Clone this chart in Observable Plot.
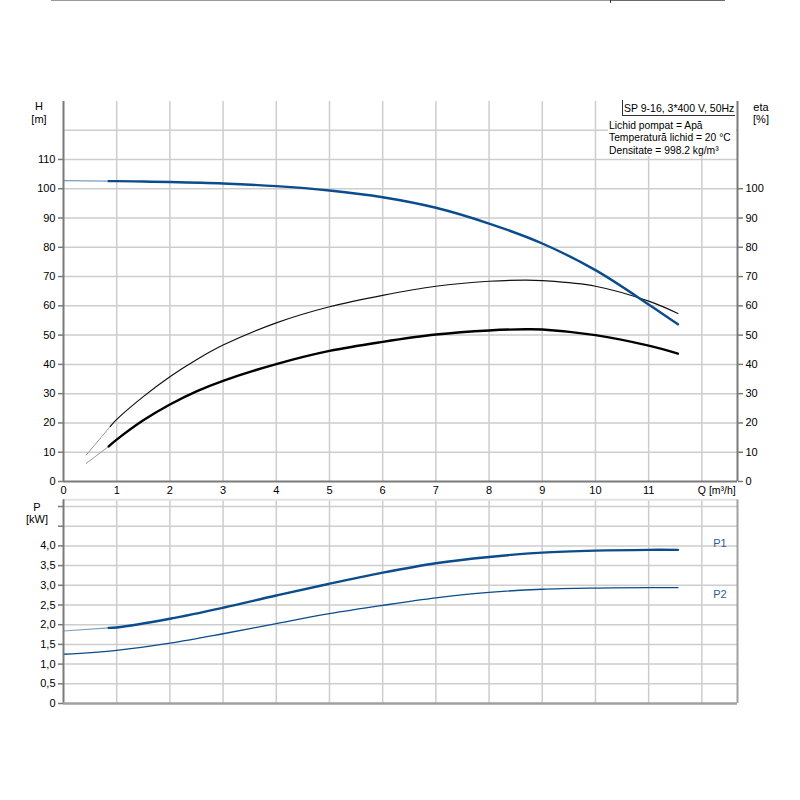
<!DOCTYPE html>
<html>
<head>
<meta charset="utf-8">
<script src="https://cdn.jsdelivr.net/npm/d3@7"></script>
<script src="https://cdn.jsdelivr.net/npm/@observablehq/plot@0.6"></script>
<style>
  html, body { margin: 0; padding: 0; background: #fff; }
  #root { position: relative; width: 800px; height: 800px; font-family: "Liberation Sans", Arial, sans-serif; color: #000; }
  .abs { position: absolute; white-space: nowrap; line-height: 1; }
  .c { transform: translate(-50%, -50%); }
  svg { overflow: visible; }
</style>
</head>
<body>
<div id="root"></div>
<script>
// ---- data ----
const Q_DOMAIN = [0, 12.67];
const Q_GRID = [1, 2, 3, 4, 5, 6, 7, 8, 9, 10, 11, 12];
const Q_TICKS = [0, 1, 2, 3, 4, 5, 6, 7, 8, 9, 10, 11];
const Q_UNIT_TICK = [12];
const Q_UNIT_LABEL = "Q [m³/h]";
const H_DOMAIN = [0, 129.8];
const H_GRID = [10, 20, 30, 40, 50, 60, 70, 80, 90, 100, 110, 120];
const H_TICKS = [0, 10, 20, 30, 40, 50, 60, 70, 80, 90, 100, 110];
const ETA_TICKS = [0, 10, 20, 30, 40, 50, 60, 70, 80, 90, 100];
const P_DOMAIN = [0, 5.17];
const P_GRID = [0.5, 1, 1.5, 2, 2.5, 3, 3.5, 4, 4.5, 5];
const P_TICKS = [0, 0.5, 1, 1.5, 2, 2.5, 3, 3.5, 4, 4.5, 5];
const P_LABELED = [0, 0.5, 1, 1.5, 2, 2.5, 3, 3.5, 4];

// head curve H [m]
const H_THIN_Q = [0, 0.85];
const H_THIN = [102.8, 102.6];
const H_Q = [0.85, 1, 1.5, 2, 3, 4, 5, 6, 7, 8, 9, 10, 11, 11.55];
const H = [102.6, 102.6, 102.45, 102.3, 101.8, 100.9, 99.4, 97.1, 93.5, 88.1, 81.3, 72.2, 60.5, 53.7];

// pump efficiency (thin black)
const ETA_P_THIN_Q = [0.43, 0.88];
const ETA_P_THIN = [9.1, 18.8];
const ETA_P_Q = [0.88, 1, 1.5, 2, 2.5, 3, 4, 5, 6, 7, 8, 8.7, 9, 10, 11, 11.55];
const ETA_P = [18.8, 21.2, 29.0, 35.8, 41.6, 46.6, 54.2, 59.7, 63.6, 66.7, 68.4, 68.8, 68.6, 66.7, 61.6, 57.4];

// total efficiency (thick black)
const ETA_T_THIN_Q = [0.43, 0.85];
const ETA_T_THIN = [6.2, 12.0];
const ETA_T_Q = [0.85, 1, 1.5, 2, 2.5, 3, 4, 5, 6, 7, 8, 8.7, 9, 10, 11, 11.55];
const ETA_T = [12.0, 14.3, 20.9, 26.3, 30.8, 34.4, 40.1, 44.6, 47.7, 50.2, 51.6, 52.0, 51.9, 50.0, 46.4, 43.7];

// power P1 / P2 [kW]
const P1_THIN_Q = [0, 0.85];
const P1_THIN = [1.84, 1.92];
const P1_Q = [0.85, 1, 2, 3, 4, 5, 6, 7, 8, 9, 10, 11, 11.55];
const P1 = [1.92, 1.93, 2.15, 2.43, 2.74, 3.04, 3.32, 3.56, 3.72, 3.83, 3.88, 3.90, 3.90];
const P2_Q = [0, 1, 2, 3, 4, 5, 6, 7, 8, 9, 10, 11, 11.55];
const P2 = [1.25, 1.35, 1.53, 1.77, 2.03, 2.28, 2.49, 2.68, 2.82, 2.90, 2.93, 2.94, 2.94];

const pts = (qs, vs) => qs.map((q, i) => ({q, v: vs[i]}));

const BLUE = "#0a4c8c";
const BLUE_THIN = "#7d9cc0";
const GRID = "#cdcdcd";
const AXIS = "#7a7a7a";
const FONT = "'Liberation Sans', Arial, sans-serif";
const CURVE = "catmull-rom";

const root = document.getElementById("root");

// ---- top chart ----
const topChart = Plot.plot({
  width: 800, height: 500,
  marginLeft: 63, marginRight: 63, marginTop: 101, marginBottom: 19,
  x: {domain: Q_DOMAIN},
  y: {domain: H_DOMAIN},
  style: {fontFamily: FONT, fontSize: "11px", background: "transparent", color: "#000", overflow: "visible"},
  marks: [
    Plot.ruleX(Q_GRID, {stroke: GRID, strokeWidth: 1.5}),
    Plot.ruleY(H_GRID, {stroke: GRID, strokeWidth: 1.5}),
    Plot.axisY({ticks: H_TICKS, anchor: "left", tickSize: 5, tickPadding: 3, label: null, stroke: AXIS, strokeWidth: 1.5, fill: "#000"}),
    Plot.axisY({ticks: ETA_TICKS, anchor: "right", tickSize: 5, tickPadding: 3, label: null, stroke: AXIS, strokeWidth: 1.5, fill: "#000"}),
    Plot.axisX({ticks: Q_TICKS, anchor: "bottom", tickSize: 0, tickPadding: 5, label: null, fill: "#000"}),
    Plot.axisX({ticks: Q_UNIT_TICK, anchor: "bottom", tickSize: 0, tickPadding: 5, label: null, fill: "#000",
      tickFormat: () => Q_UNIT_LABEL, textAnchor: "start", dx: -4, fontSize: 10.5}),
    Plot.line(pts(ETA_P_THIN_Q, ETA_P_THIN), {x: "q", y: "v", stroke: "#999", strokeWidth: 1}),
    Plot.line(pts(ETA_P_Q, ETA_P), {x: "q", y: "v", stroke: "#111", strokeWidth: 1.2, curve: CURVE}),
    Plot.line(pts(ETA_T_THIN_Q, ETA_T_THIN), {x: "q", y: "v", stroke: "#999", strokeWidth: 1}),
    Plot.line(pts(ETA_T_Q, ETA_T), {x: "q", y: "v", stroke: "#000", strokeWidth: 2.4, curve: CURVE}),
    Plot.line(pts(H_THIN_Q, H_THIN), {x: "q", y: "v", stroke: BLUE_THIN, strokeWidth: 1.2}),
    Plot.line(pts(H_Q, H), {x: "q", y: "v", stroke: BLUE, strokeWidth: 2.4, curve: CURVE}),
    Plot.ruleX([Q_DOMAIN[0]], {stroke: AXIS, strokeWidth: 2}),
    Plot.ruleX([Q_DOMAIN[1]], {stroke: AXIS, strokeWidth: 2}),
    Plot.ruleY([0], {stroke: AXIS, strokeWidth: 2})
  ]
});
topChart.style.position = "absolute";
topChart.style.left = "0px";
topChart.style.top = "0px";
root.appendChild(topChart);

// ---- bottom chart ----
const P1_END = [{q: P1_Q[P1_Q.length - 1], v: P1[P1.length - 1], t: "P1"}];
const P2_END = [{q: P2_Q[P2_Q.length - 1], v: P2[P2.length - 1], t: "P2"}];
const bottomChart = Plot.plot({
  width: 800, height: 240,
  marginLeft: 63, marginRight: 63, marginTop: 19.3, marginBottom: 17,
  x: {domain: Q_DOMAIN, axis: null},
  y: {domain: P_DOMAIN},
  style: {fontFamily: FONT, fontSize: "11px", background: "transparent", color: "#000", overflow: "visible"},
  marks: [
    Plot.ruleX(Q_GRID, {stroke: GRID, strokeWidth: 1.5}),
    Plot.ruleY(P_GRID, {stroke: GRID, strokeWidth: 1.5}),
    Plot.ruleY([P_DOMAIN[1]], {stroke: "#e2e2e2", strokeWidth: 2}),
    Plot.axisY({ticks: P_TICKS, anchor: "left", tickSize: 5, tickPadding: 3, label: null, stroke: AXIS, strokeWidth: 1.5, fill: "#000",
      tickFormat: d => P_LABELED.includes(d) ? (d === 0 ? "0" : d.toFixed(1).replace(".", ",")) : ""}),
    Plot.line(pts(P1_THIN_Q, P1_THIN), {x: "q", y: "v", stroke: BLUE_THIN, strokeWidth: 1.2}),
    Plot.line(pts(P1_Q, P1), {x: "q", y: "v", stroke: BLUE, strokeWidth: 2.4, curve: CURVE}),
    Plot.line(pts(P2_Q, P2), {x: "q", y: "v", stroke: BLUE, strokeWidth: 1.3, curve: CURVE}),
    Plot.text(P1_END, {x: "q", y: "v", text: "t", dx: 42, dy: -6, fill: "#2b5d93", fontSize: 11}),
    Plot.text(P2_END, {x: "q", y: "v", text: "t", dx: 42, dy: 7, fill: "#2b5d93", fontSize: 11}),
    Plot.ruleX([Q_DOMAIN[0]], {stroke: AXIS, strokeWidth: 2}),
    Plot.ruleX([Q_DOMAIN[1]], {stroke: "#a0a0a0", strokeWidth: 2}),
    Plot.ruleY([0], {stroke: "#a0a0a0", strokeWidth: 2.5})
  ]
});
bottomChart.style.position = "absolute";
bottomChart.style.left = "0px";
bottomChart.style.top = "480px";
root.appendChild(bottomChart);

// ---- html overlays (labels, info box) ----
function addDiv(html, css, cls) {
  const d = document.createElement("div");
  d.className = "abs " + (cls || "");
  d.innerHTML = html;
  Object.assign(d.style, css);
  root.appendChild(d);
  return d;
}
// top border line of page
addDiv("", {left: "51px", top: "0px", width: "559px", height: "0px", borderTop: "1px solid #9a9a9a"});
addDiv("", {left: "610px", top: "0px", width: "115px", height: "0px", borderTop: "1px solid #6a6a6a"});
addDiv("", {left: "610px", top: "0px", width: "0px", height: "3px", borderLeft: "1px solid #333"});

addDiv("H", {left: "39px", top: "106px", fontSize: "11px"}, "c");
addDiv("[m]", {left: "39px", top: "119px", fontSize: "11px"}, "c");
addDiv("eta", {left: "761px", top: "107px", fontSize: "11px"}, "c");
addDiv("[%]", {left: "761px", top: "119px", fontSize: "11px"}, "c");
addDiv("P", {left: "37px", top: "507px", fontSize: "11px"}, "c");
addDiv("[kW]", {left: "37px", top: "519px", fontSize: "11px"}, "c");

// white panel behind info text
addDiv("", {left: "608px", top: "102px", width: "128px", height: "54px", background: "#fff"});
addDiv("SP 9-16, 3*400 V, 50Hz", {left: "622px", top: "100px", width: "113px", height: "16px",
  borderLeft: "1px solid #333", borderBottom: "1px solid #333", background: "#fff",
  fontSize: "10.5px", lineHeight: "16px", paddingLeft: "1px", boxSizing: "border-box"});
addDiv("Lichid pompat = Apă", {left: "609px", top: "121px", fontSize: "10.3px"});
addDiv("Temperatură lichid = 20 °C", {left: "609px", top: "133px", fontSize: "10.3px"});
addDiv("Densitate = 998.2 kg/m³", {left: "609px", top: "146px", fontSize: "10.3px"});
</script>
</body>
</html>
